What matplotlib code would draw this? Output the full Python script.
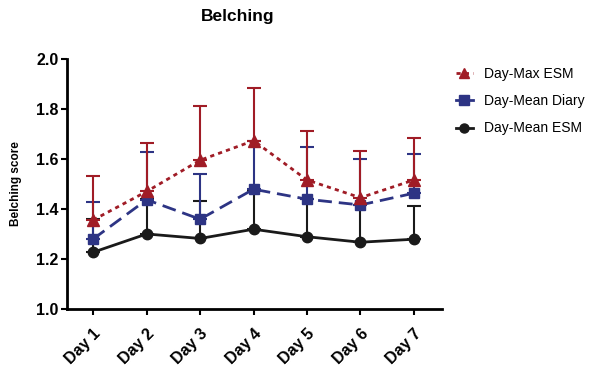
import matplotlib
matplotlib.use("Agg")
import matplotlib.pyplot as plt
from matplotlib.lines import Line2D

plt.rcParams['font.family'] = ['Liberation Sans', 'DejaVu Sans']

days = ["Day 1", "Day 2", "Day 3", "Day 4", "Day 5", "Day 6", "Day 7"]
max_esm = [1.356, 1.47, 1.595, 1.673, 1.516, 1.445, 1.516]
max_esm_up = [1.532, 1.663, 1.813, 1.885, 1.713, 1.63, 1.683]
mean_diary = [1.28, 1.437, 1.359, 1.479, 1.439, 1.416, 1.463]
mean_diary_up = [1.427, 1.629, 1.54, 1.67, 1.649, 1.601, 1.62]
mean_esm = [1.227, 1.30, 1.282, 1.319, 1.289, 1.267, 1.279]
mean_esm_up = [1.36, 1.44, 1.43, 1.47, 1.44, 1.416, 1.412]

red = "#a01c26"
blue = "#2d3484"
black = "#1a1a1a"

fig = plt.figure(figsize=(5.9, 3.73), dpi=100)
ax = fig.add_axes([0.1136, 0.1716, 0.635, 0.6704])
x = list(range(len(days)))

series = [
    (mean_esm, mean_esm_up, black, "-", "o", "Day-Mean ESM", 7.5),
    (mean_diary, mean_diary_up, blue, (0, (5, 2.5)), "s", "Day-Mean Diary", 7.5),
    (max_esm, max_esm_up, red, (0, (1.5, 1.5)), "^", "Day-Max ESM", 8),
]
for z, (vals, ups, col, ls, mk, lab, ms) in enumerate(series):
    err = [u - v for u, v in zip(ups, vals)]
    ax.errorbar(x, vals, yerr=[[0]*len(vals), err], fmt='none', ecolor=col,
                elinewidth=1.5, capsize=5, capthick=1.5, zorder=2 + z)
for z, (vals, ups, col, ls, mk, lab, ms) in enumerate(series):
    ax.plot(x, vals, color=col, linestyle=ls, linewidth=2, zorder=5 + z)
    ax.plot(x, vals, color=col, linestyle='none', marker=mk, markersize=ms, zorder=10 + z)

ax.set_xlim(-0.49, 6.52)
ax.set_ylim(1.0, 2.0)
ax.set_yticks([1.0, 1.2, 1.4, 1.6, 1.8, 2.0])
ax.set_yticklabels(["1.0", "1.2", "1.4", "1.6", "1.8", "2.0"], fontweight='bold', fontsize=11.5)
ax.set_xticks(x)
ax.set_xticklabels(days, rotation=45, ha='right', rotation_mode='anchor', fontweight='bold', fontsize=11.5)
for s in ["top", "right"]:
    ax.spines[s].set_visible(False)
for s in ["left", "bottom"]:
    ax.spines[s].set_linewidth(2)
ax.tick_params(axis='both', width=1.5, length=4, direction='out', pad=2)
ax.tick_params(axis='x', pad=8)
ax.set_ylabel("Belching score", fontweight='bold', fontsize=8.5, labelpad=10)
fig.text(237.5 / 590, 1 - 16 / 373, "Belching", fontweight='bold', fontsize=12.5, ha='center', va='center')

handles = [
    Line2D([0], [0], color=red, linestyle=(0, (1.5, 1.5)), linewidth=2, marker='^', markersize=7),
    Line2D([0], [0], color=blue, linestyle='-', linewidth=2, marker='s', markersize=6.5),
    Line2D([0], [0], color=black, linestyle='-', linewidth=2, marker='o', markersize=6.5),
]
labels = ["Day-Max ESM", "Day-Mean Diary", "Day-Mean ESM"]
fig.legend(handles, labels, loc='upper left', bbox_to_anchor=(456 / 590, 1 - 67 / 373), frameon=False,
           fontsize=10, handlelength=1.2, labelspacing=0.95, handletextpad=0.85,
           borderpad=0, borderaxespad=0)

fig.savefig("out.png", dpi=100)
